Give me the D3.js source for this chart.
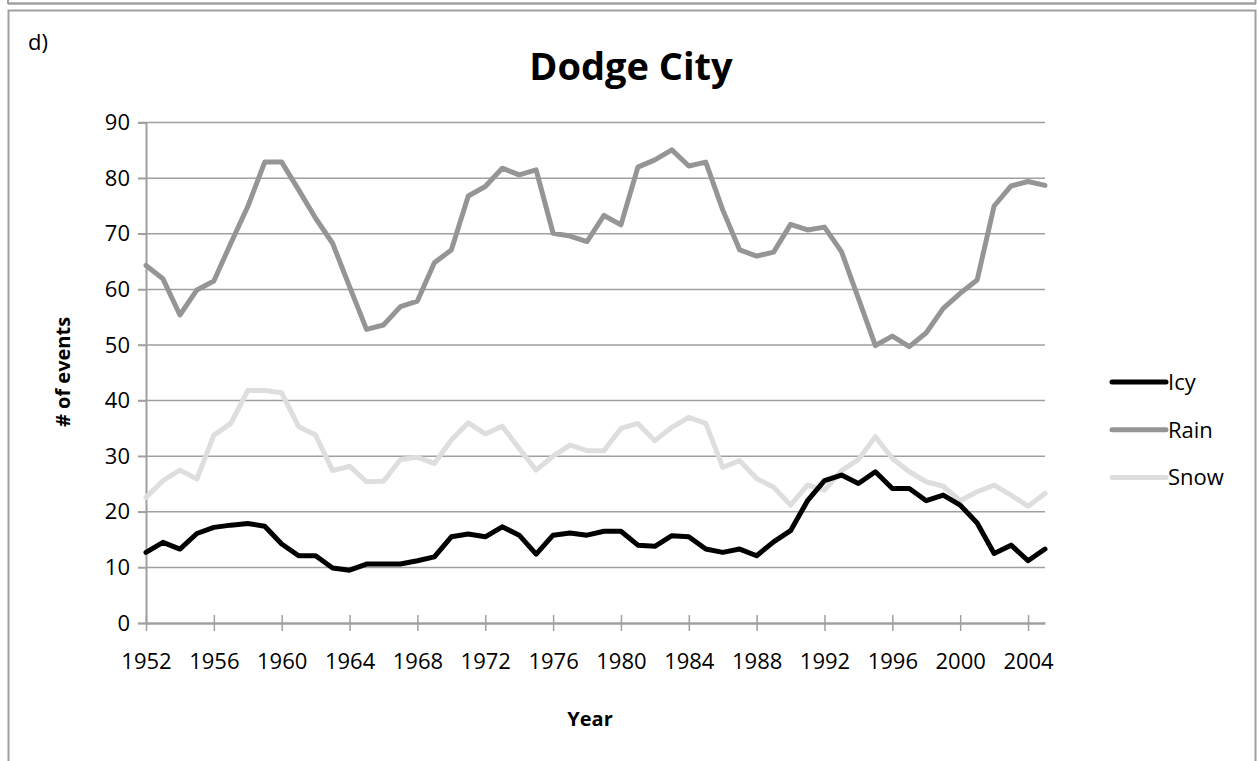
<!DOCTYPE html>
<html>
<head>
<meta charset="utf-8">
<script src="https://cdn.jsdelivr.net/npm/d3@7"></script>
<style>
  body { margin: 0; background: #fff; }
  svg { display: block; font-family: 'Open Sans', sans-serif; }
</style>
</head>
<body>
<svg id="chart" width="1257" height="761"></svg>
<script>
// yearly values, 1952..2005
var years = [1952, 1953, 1954, 1955, 1956, 1957, 1958, 1959, 1960, 1961,
  1962, 1963, 1964, 1965, 1966, 1967, 1968, 1969, 1970, 1971,
  1972, 1973, 1974, 1975, 1976, 1977, 1978, 1979, 1980, 1981,
  1982, 1983, 1984, 1985, 1986, 1987, 1988, 1989, 1990, 1991,
  1992, 1993, 1994, 1995, 1996, 1997, 1998, 1999, 2000, 2001,
  2002, 2003, 2004, 2005];

var icy = [12.7, 14.5, 13.3, 16.1, 17.2, 17.6, 17.9, 17.4, 14.2, 12.1,
  12.1, 9.9, 9.5, 10.6, 10.6, 10.6, 11.2, 11.9, 15.5, 16.0,
  15.5, 17.3, 15.8, 12.4, 15.8, 16.2, 15.8, 16.5, 16.5, 14.0,
  13.8, 15.7, 15.5, 13.3, 12.7, 13.3, 12.1, 14.6, 16.6, 22.0,
  25.6, 26.6, 25.1, 27.2, 24.2, 24.2, 22.0, 23.0, 21.2, 18.0,
  12.5, 14.0, 11.2, 13.3];

var rain = [64.3, 61.9, 55.4, 59.9, 61.5, 68.3, 74.9, 82.9, 82.9, 77.9,
  72.8, 68.3, 60.5, 52.8, 53.6, 56.9, 57.9, 64.8, 67.1, 76.8,
  78.5, 81.8, 80.6, 81.5, 70.1, 69.6, 68.6, 73.3, 71.6, 82.0,
  83.3, 85.1, 82.2, 82.9, 74.3, 67.1, 66.0, 66.7, 71.7, 70.7,
  71.2, 66.8, 58.4, 49.9, 51.6, 49.7, 52.2, 56.6, 59.3, 61.7,
  75.0, 78.6, 79.4, 78.7];

var snow = [22.6, 25.6, 27.5, 25.9, 33.8, 35.9, 41.8, 41.8, 41.4, 35.3,
  33.8, 27.4, 28.2, 25.4, 25.5, 29.4, 29.8, 28.7, 32.9, 36.0,
  34.0, 35.4, 31.4, 27.5, 30.0, 32.0, 31.0, 31.0, 35.0, 35.9,
  32.8, 35.2, 37.0, 35.9, 28.0, 29.2, 26.0, 24.4, 21.2, 24.8,
  23.9, 27.4, 29.4, 33.5, 29.6, 27.2, 25.4, 24.6, 22.0, 23.6,
  24.8, 23.0, 21.0, 23.3];

var seriesNames = ['Icy', 'Rain', 'Snow'];
var seriesColors = ['#000000', '#959595', '#dedede'];
var xTicks = [1952, 1956, 1960, 1964, 1968, 1972, 1976, 1980, 1984, 1988, 1992, 1996, 2000, 2004];
var yTicks = [0, 10, 20, 30, 40, 50, 60, 70, 80, 90];

var svg = d3.select('#chart');
var gridColor = '#a0a0a0';

// page frame
svg.append('line')
    .attr('x1', 8).attr('x2', 1256).attr('y1', 3.5).attr('y2', 3.5)
    .attr('stroke', gridColor).attr('stroke-width', 2.5);
svg.append('line')
    .attr('x1', 8).attr('x2', 8).attr('y1', 0).attr('y2', 4)
    .attr('stroke', gridColor).attr('stroke-width', 2);
svg.append('line')
    .attr('x1', 1255.5).attr('x2', 1255.5).attr('y1', 0).attr('y2', 4)
    .attr('stroke', gridColor).attr('stroke-width', 2);
svg.append('path')
    .attr('d', 'M8.5,761 V10.5 H1255.5 V761')
    .attr('fill', 'none').attr('stroke', gridColor).attr('stroke-width', 2);

svg.append('text')
    .attr('x', 28).attr('y', 50)
    .attr('font-size', 22)
    .text('d)');

var x = d3.scaleLinear().domain([1952, 2005]).range([146, 1045]);
var y = d3.scaleLinear().domain([0, 90]).range([623, 122.6]);

// horizontal gridlines
svg.append('g')
  .selectAll('line')
  .data(yTicks.slice(1))
  .enter().append('line')
    .attr('x1', 138).attr('x2', x(2005))
    .attr('y1', function(d) { return y(d); })
    .attr('y2', function(d) { return y(d); })
    .attr('stroke', gridColor).attr('stroke-width', 1.5);

// y axis
var yAxis = svg.append('g')
    .attr('transform', 'translate(' + x(1952) + ',0)')
    .call(d3.axisLeft(y).tickValues(yTicks).tickSize(8).tickPadding(8));
yAxis.select('.domain').attr('stroke', gridColor).attr('stroke-width', 2);
yAxis.selectAll('.tick line').attr('stroke', gridColor).attr('stroke-width', 1.5);
yAxis.selectAll('.tick text')
    .attr('font-family', "'Open Sans', sans-serif")
    .attr('font-size', 22).attr('fill', '#000');

// x axis
var xAxis = svg.append('g')
    .attr('transform', 'translate(0,' + y(0) + ')')
    .call(d3.axisBottom(x).tickValues(xTicks).tickFormat(d3.format('d'))
        .tickSizeInner(8).tickSizeOuter(0).tickPadding(22));
xAxis.select('.domain').attr('stroke', gridColor).attr('stroke-width', 2.5);
xAxis.selectAll('.tick line')
    .attr('y1', -8).attr('y2', 8)
    .attr('stroke', gridColor).attr('stroke-width', 1.5);
xAxis.selectAll('.tick text')
    .attr('font-family', "'Open Sans', sans-serif")
    .attr('font-size', 22).attr('fill', '#000');

// series lines
var table = [icy, rain, snow];
var line = d3.line()
    .x(function(d, i) { return x(years[i]); })
    .y(function(d) { return y(d); });

svg.append('g')
  .selectAll('path')
  .data([2, 1, 0])
  .enter().append('path')
    .attr('d', function(k) { return line(table[k]); })
    .attr('fill', 'none')
    .attr('stroke', function(k) { return seriesColors[k]; })
    .attr('stroke-width', 5)
    .attr('stroke-linejoin', 'round')
    .attr('stroke-linecap', 'round');

// titles
svg.append('text')
    .attr('x', 631).attr('y', 80)
    .attr('text-anchor', 'middle')
    .attr('font-size', 38).attr('font-weight', 'bold')
    .text('Dodge City');

svg.append('text')
    .attr('transform', 'translate(70,372) rotate(-90)')
    .attr('text-anchor', 'middle')
    .attr('font-size', 20).attr('font-weight', 'bold')
    .text('# of events');

svg.append('text')
    .attr('x', 590).attr('y', 726)
    .attr('text-anchor', 'middle')
    .attr('font-size', 20).attr('font-weight', 'bold')
    .text('Year');

// legend
var legend = svg.append('g')
  .selectAll('g')
  .data(seriesNames)
  .enter().append('g')
    .attr('transform', function(d, i) { return 'translate(1112,' + (382 + i * 47.7) + ')'; });

legend.append('line')
    .attr('x1', 0).attr('x2', 54)
    .attr('stroke', function(d, i) { return seriesColors[i]; })
    .attr('stroke-width', 5)
    .attr('stroke-linecap', 'round');

legend.append('text')
    .attr('x', 56).attr('y', 8)
    .attr('font-size', 22)
    .text(function(d) { return d; });
</script>
</body>
</html>
